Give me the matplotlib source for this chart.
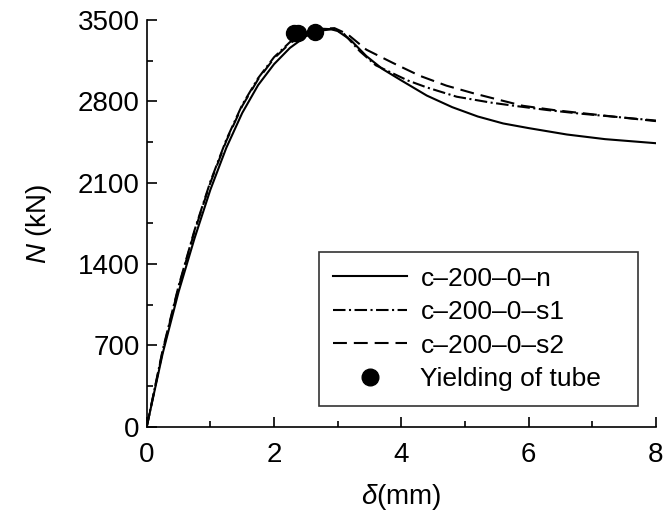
import matplotlib
matplotlib.use("Agg")
import matplotlib.pyplot as plt
from matplotlib.lines import Line2D
from matplotlib.ticker import MultipleLocator

# Data
x_n = [0, 0.25, 0.5, 0.75, 1.0, 1.25, 1.5, 1.75, 2.0, 2.25, 2.5, 2.75, 2.9, 3.0,
       3.2, 3.45, 3.7, 4.0, 4.4, 4.8, 5.2, 5.6, 6.0, 6.6, 7.2, 8.0]
y_n = [0, 630, 1160, 1620, 2040, 2400, 2700, 2940, 3120, 3260, 3360, 3410, 3420, 3405,
       3330, 3190, 3080, 2980, 2850, 2750, 2670, 2610, 2570, 2515, 2475, 2440]

x_s1 = [0, 0.25, 0.5, 0.75, 1.0, 1.25, 1.5, 1.75, 2.0, 2.25, 2.5, 2.75, 2.95, 3.1,
        3.35, 3.6, 3.87, 4.1, 4.4, 4.87, 5.4, 5.8, 6.3, 6.8, 7.4, 8.0]
y_s1 = [0, 660, 1210, 1690, 2110, 2470, 2770, 3000, 3180, 3310, 3390, 3425, 3420, 3380,
        3230, 3110, 3040, 2980, 2920, 2840, 2790, 2760, 2725, 2695, 2665, 2635]

x_s2 = [0, 0.25, 0.5, 0.75, 1.0, 1.25, 1.5, 1.75, 2.0, 2.25, 2.5, 2.75, 2.95, 3.15,
        3.45, 3.87, 4.29, 4.71, 5.13, 5.5, 5.91, 6.4, 6.9, 7.4, 8.0]
y_s2 = [0, 650, 1200, 1680, 2100, 2460, 2760, 2990, 3170, 3300, 3385, 3425, 3430, 3380,
        3245, 3130, 3020, 2935, 2870, 2818, 2762, 2725, 2695, 2665, 2630]

x_yield = [2.32, 2.38, 2.64]
y_yield = [3386, 3386, 3400]

labels = ["c\u2013200\u20130\u2013n", "c\u2013200\u20130\u2013s1", "c\u2013200\u20130\u2013s2",
          "Yielding of tube"]

plt.rcParams['font.family'] = ['Liberation Sans', 'DejaVu Sans']
plt.rcParams['mathtext.fontset'] = 'custom'
plt.rcParams['mathtext.rm'] = 'Liberation Sans'
plt.rcParams['mathtext.it'] = 'Liberation Sans:italic'
plt.rcParams['lines.scale_dashes'] = False

fig = plt.figure(figsize=(6.7, 5.13), dpi=100)
ax = fig.add_axes([0.219, 0.168, 0.76, 0.793])

lw = 1.5
dd = [9, 2.5, 1.5, 2.5]
dsh = [10, 5]
ax.plot(x_n, y_n, color='black', lw=lw, ls='-')
ax.plot(x_s1, y_s1, color='black', lw=lw, dashes=dd)
ax.plot(x_s2, y_s2, color='black', lw=lw, dashes=dsh)
ax.plot(x_yield, y_yield, 'o', color='black', ms=11.5, ls='none')

ax.set_xlim(0, 8)
ax.set_ylim(0, 3500)
ax.xaxis.set_major_locator(MultipleLocator(2))
ax.xaxis.set_minor_locator(MultipleLocator(1))
ax.yaxis.set_major_locator(MultipleLocator(700))
ax.yaxis.set_minor_locator(MultipleLocator(350))
ax.spines['top'].set_visible(False)
ax.spines['right'].set_visible(False)
for s in ['left', 'bottom']:
    ax.spines[s].set_linewidth(1.2)
ax.tick_params(which='both', direction='in', labelsize=20, width=1.2)
ax.tick_params(which='major', length=7)
ax.tick_params(which='minor', length=4.5)
ax.tick_params(axis='y', pad=5)
ax.tick_params(axis='x', pad=11)

ax.set_ylabel(r'$N$ (kN)', fontsize=20, labelpad=17)
ax.set_xlabel(r'$\delta$(mm)', fontsize=20, labelpad=10)

handles = [
    Line2D([], [], color='black', lw=lw, ls='-'),
    Line2D([], [], color='black', lw=lw, dashes=dd),
    Line2D([], [], color='black', lw=lw, dashes=dsh),
    Line2D([], [], color='black', marker='o', ms=12, ls='none'),
]
leg = ax.legend(handles, labels, loc='lower left', bbox_to_anchor=(0.338, 0.052, 0.627, 0.379),
                mode='expand', fontsize=19, frameon=True, fancybox=False,
                handlelength=2.8, handletextpad=0.5, labelspacing=0.36,
                borderpad=0.55, borderaxespad=0)
leg.get_frame().set_edgecolor('black')
leg.get_frame().set_linewidth(1.2)

fig.savefig('out.png', dpi=100)
